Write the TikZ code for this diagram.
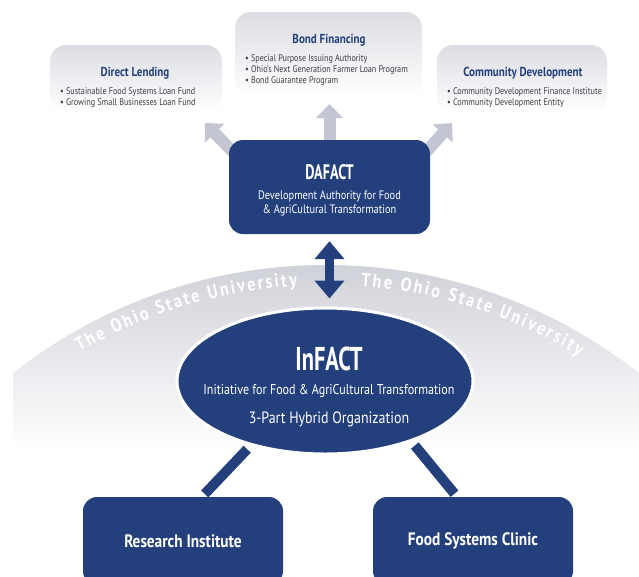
\documentclass[tikz,border=0pt]{standalone}
\usepackage{fontspec}
\setmainfont{PT Sans}[FakeStretch=0.85]
\newfontfamily\headfont{PT Sans}[FakeStretch=0.68]
\usetikzlibrary{arrows.meta,shapes.geometric,decorations.text}
\definecolor{factblue}{HTML}{23407D}
\definecolor{arcgray}{HTML}{D0D2D9}
\definecolor{panelgray}{HTML}{DCDDE3}
\definecolor{tipgray}{HTML}{C3C6D2}
\definecolor{listgray}{HTML}{3C3C44}
\pgfdeclarelayer{bottom}
\pgfdeclarelayer{back}
\pgfsetlayers{bottom,back,main}
\newcommand\arcfont{\color{white}\bfseries\fontsize{19}{19}\selectfont}

\begin{document}
\begin{tikzpicture}[x=1pt,y=1pt]
  \tikzstyle{every node}=[inner sep=0pt]
  \tikzstyle{panel}=[rounded corners=16pt, top color=panelgray, bottom color=white]
  \tikzstyle{bluebox}=[fill=factblue, rounded corners=14pt, text=white]
  \tikzstyle{paneltitle}=[anchor=base, text=factblue, font=\bfseries\fontsize{13}{14}\selectfont]
  \tikzstyle{item}=[anchor=base west, text=listgray, font=\fontsize{9.6}{11}\selectfont]
  \tikzstyle{whitetext}=[anchor=base, text=white]
  \tikzstyle{softarrow}=[draw=tipgray, line width=12pt, -{Triangle[width=26pt,length=14pt]}]
  \tikzstyle{twoway}=[draw=factblue, line width=9pt, {Triangle[width=29pt,length=18pt]}-{Triangle[width=29pt,length=18pt]}]
  \tikzstyle{link}=[draw=factblue, line width=10pt]

  \useasboundingbox (0,0) rectangle (639,-576);
  \clip (0,0) rectangle (639,-576);
  \coordinate (C) at (326,-772);

  \begin{pgfonlayer}{bottom}
    \fill[white] (0,0) rectangle (639,-576);
    \begin{scope}
      \clip (C) circle[radius=507];
      \shade[top color=arcgray, bottom color=white] (13,-265) rectangle (639,-450);
    \end{scope}
  \end{pgfonlayer}
  \path[decorate, decoration={text along path, text align={fit to path},
    text={|\arcfont|The Ohio State University}}]
    ([shift={(120.4:487)}]C) arc[start angle=120.4, end angle=93.4, radius=487];
  \path[decorate, decoration={text along path, text align={fit to path},
    text={|\arcfont|The Ohio State University}}]
    ([shift={(85.9:487)}]C) arc[start angle=85.9, end angle=58.7, radius=487];

  \node[panel, minimum width=172pt, minimum height=67pt] (lending) at (136,-78.5) {};
  \node[panel, minimum width=187pt, minimum height=85pt] (bonds) at (328.5,-54.5) {};
  \node[panel, minimum width=170pt, minimum height=67pt] (community) at (522,-78.5) {};
  \node[paneltitle] (lendingtitle) at (135,-76) {Direct Lending};
  \node[item] (lending1) at (60,-94) {\textbullet\ Sustainable Food Systems Loan Fund};
  \node[item] (lending2) at (60,-105) {\textbullet\ Growing Small Businesses Loan Fund};
  \node[paneltitle] (bondstitle) at (329,-43) {Bond Financing};
  \node[item] (bonds1) at (245,-61) {\textbullet\ Special Purpose Issuing Authority};
  \node[item] (bonds2) at (245,-72) {\textbullet\ Ohio's Next Generation Farmer Loan Program};
  \node[item] (bonds3) at (245,-83) {\textbullet\ Bond Guarantee Program};
  \node[paneltitle] (communitytitle) at (523,-76) {Community Development};
  \node[item] (community1) at (447,-94) {\textbullet\ Community Development Finance Institute};
  \node[item] (community2) at (447,-105) {\textbullet\ Community Development Entity};

  \node[bluebox, minimum width=201pt, minimum height=94pt] (dafact) at (329.5,-187) {};
  \node[whitetext, font=\headfont\bfseries\fontsize{21}{21}\selectfont] (dafacttitle) at (329.5,-179) {DAFACT};
  \node[whitetext, font=\fontsize{12.2}{13}\selectfont] (dafact1) at (329.5,-199) {Development Authority for Food};
  \node[whitetext, font=\fontsize{12.2}{13}\selectfont] (dafact2) at (329.5,-213) {\& AgriCultural Transformation};

  \coordinate (lendingtip) at (205,-123);
  \coordinate (bondstip) at (329.5,-104);
  \coordinate (communitytip) at (452,-123);
  \begin{pgfonlayer}{back}
    \draw[softarrow] ([shift={(4,-12)}]dafact.north west) -- (lendingtip);
    \draw[softarrow] (dafact.north) -- (bondstip);
    \draw[softarrow] ([shift={(-4,-12)}]dafact.north east) -- (communitytip);
  \end{pgfonlayer}

  \node[ellipse, fill=factblue, draw=white, line width=3pt, minimum width=296pt, minimum height=146pt] (infact) at (325,-381) {};
  \node[whitetext, font=\headfont\bfseries\fontsize{33}{33}\selectfont] (infacttitle) at (329,-370) {InFACT};
  \node[whitetext, font=\fontsize{14.2}{15}\selectfont] (infact1) at (329,-394) {Initiative for Food \& AgriCultural Transformation};
  \node[whitetext, font=\fontsize{16.4}{18}\selectfont] (infact2) at (329,-423) {3-Part Hybrid Organization};
  \draw[twoway, shorten <=7pt, shorten >=8pt] (dafact.south) -- (dafact.south |- infact.north);

  \node[bluebox, minimum width=200pt, minimum height=88pt, font=\bfseries\fontsize{18}{20}\selectfont] (research) at (183,-541) {Research Institute};
  \node[bluebox, minimum width=200pt, minimum height=88pt, font=\bfseries\fontsize{18}{20}\selectfont] (clinic) at (473,-541) {Food Systems Clinic};
  \draw[link, shorten <=5pt, shorten >=4pt] (infact.221) -- ([xshift=19pt]research.north);
  \draw[link, shorten <=5pt, shorten >=4pt] (infact.325) -- ([xshift=-16pt]clinic.north);
\end{tikzpicture}
\end{document}
